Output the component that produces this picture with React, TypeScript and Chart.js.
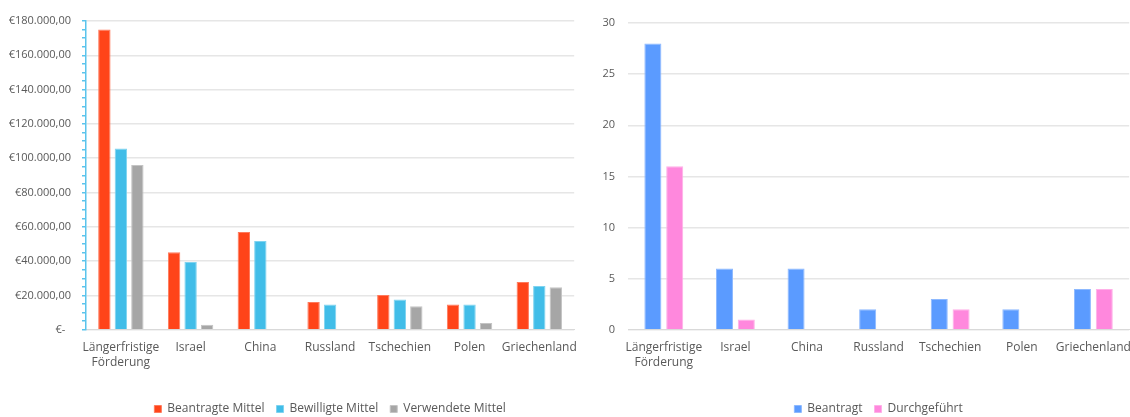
import React, { useEffect, useRef } from 'react';
import { Chart, registerables } from 'chart.js';

Chart.register(...registerables);

const categories: (string | string[])[] = [
  ['Längerfristige', 'Förderung'],
  'Israel',
  'China',
  'Russland',
  'Tschechien',
  'Polen',
  'Griechenland',
];

const beantragteMittel = [175000, 45200, 57000, 16200, 20300, 14700, 27900];
const bewilligteMittel = [105700, 39500, 51700, 14700, 17700, 14700, 25500];
const verwendeteMittel = [96000, 3000, 0, 0, 13800, 3900, 24800];

const beantragt = [28, 6, 6, 2, 3, 2, 4];
const durchgefuehrt = [16, 1, 0, 0, 2, 0, 4];

const euroMax = 180000;
const euroMajorStep = 20000;
const euroMinorStep = 5000;
const countMax = 30;
const countStep = 5;

const TEXT = '#595959';
const GRID = '#e6e6e6';
const FONT = "'Open Sans', sans-serif";

function euro(v: number): string {
  if (v === 0) return '€-  ';
  const s = Math.round(v).toString().replace(/\B(?=(\d{3})+(?!\d))/g, '.');
  return '€' + s + ',00';
}

function legendOpts() {
  return {
    position: 'bottom' as const,
    fullSize: false,
    title: { display: true, text: '', font: { size: 1 }, padding: { top: 10, bottom: 0 } },
    labels: {
      boxWidth: 7,
      boxHeight: 7,
      padding: 12,
      color: TEXT,
      font: { family: FONT, size: 12 },
    },
  };
}

function xAxis() {
  return {
    grid: { display: false, drawTicks: false, tickLength: 0 },
    border: { display: true, color: '#d9d9d9', width: 1 },
    ticks: {
      color: TEXT,
      font: { family: FONT, size: 12, lineHeight: 1.25 },
      padding: 10,
      maxRotation: 0,
      autoSkip: false,
    },
  };
}

export default function App() {
  const leftRef = useRef<HTMLCanvasElement>(null);
  const rightRef = useRef<HTMLCanvasElement>(null);

  useEffect(() => {
    Chart.defaults.font.family = FONT;
    Chart.defaults.color = TEXT;

    const left = new Chart(leftRef.current!, {
      type: 'bar',
      data: {
        labels: categories,
        datasets: [
          {
            label: 'Beantragte Mittel',
            data: beantragteMittel,
            backgroundColor: '#FF4419',
            borderColor: '#FF7A5C',
            borderWidth: 1,
          },
          {
            label: 'Bewilligte Mittel',
            data: bewilligteMittel,
            backgroundColor: '#41BDE8',
            borderColor: '#7FD3F0',
            borderWidth: 1,
          },
          {
            label: 'Verwendete Mittel',
            data: verwendeteMittel,
            backgroundColor: '#A6A6A6',
            borderColor: '#C4C4C4',
            borderWidth: 1,
          },
        ],
      },
      options: {
        responsive: false,
        animation: false,
        layout: { padding: { top: 21, left: 0, right: 3, bottom: 0 } },
        datasets: { bar: { categoryPercentage: 0.71, barPercentage: 0.75 } },
        plugins: {
          legend: legendOpts(),
          tooltip: { enabled: false },
        },
        scales: {
          x: xAxis(),
          y: {
            min: 0,
            max: euroMax,
            afterFit: (scale: any) => {
              scale.width = 86;
            },
            border: { display: true, color: '#5BC4EC', width: 1.5 },
            grid: {
              color: (ctx: any) =>
                ctx.tick && ctx.tick.value % euroMajorStep === 0 ? GRID : 'rgba(0,0,0,0)',
              tickColor: '#5BC4EC',
              tickLength: 4,
              lineWidth: 1.5,
            },
            ticks: {
              stepSize: euroMinorStep,
              autoSkip: false,
              padding: 11,
              color: TEXT,
              font: { family: FONT, size: 11 },
              callback: (v: any) => (Number(v) % euroMajorStep === 0 ? euro(Number(v)) : ''),
            },
          },
        },
      },
    });

    const right = new Chart(rightRef.current!, {
      type: 'bar',
      data: {
        labels: categories,
        datasets: [
          {
            label: 'Beantragt',
            data: beantragt,
            backgroundColor: '#5B9BFF',
            borderColor: '#8DB9FF',
            borderWidth: 1,
          },
          {
            label: 'Durchgeführt',
            data: durchgefuehrt,
            backgroundColor: '#FF88DD',
            borderColor: '#FFB0E8',
            borderWidth: 1,
          },
        ],
      },
      options: {
        responsive: false,
        animation: false,
        layout: { padding: { top: 23, left: 0, right: 2, bottom: 0 } },
        datasets: { bar: { categoryPercentage: 0.61, barPercentage: 0.78 } },
        plugins: {
          legend: legendOpts(),
          tooltip: { enabled: false },
        },
        scales: {
          x: xAxis(),
          y: {
            min: 0,
            max: countMax,
            afterFit: (scale: any) => {
              scale.width = 48;
            },
            border: { display: false },
            grid: { color: GRID, lineWidth: 1.5, drawTicks: false },
            ticks: {
              stepSize: countStep,
              padding: 13,
              color: TEXT,
              font: { family: FONT, size: 11 },
            },
          },
        },
      },
    });

    return () => {
      left.destroy();
      right.destroy();
    };
  }, []);

  return (
    <div
      style={{
        position: 'absolute',
        left: 0,
        top: 0,
        width: 1130,
        height: 417,
        overflow: 'hidden',
        background: '#ffffff',
      }}
    >
      <canvas
        ref={leftRef}
        width={587}
        height={425}
        style={{ position: 'absolute', left: 0, top: 0, display: 'block' }}
      />
      <canvas
        ref={rightRef}
        width={561}
        height={425}
        style={{ position: 'absolute', left: 580, top: 0, display: 'block' }}
      />
    </div>
  );
}
